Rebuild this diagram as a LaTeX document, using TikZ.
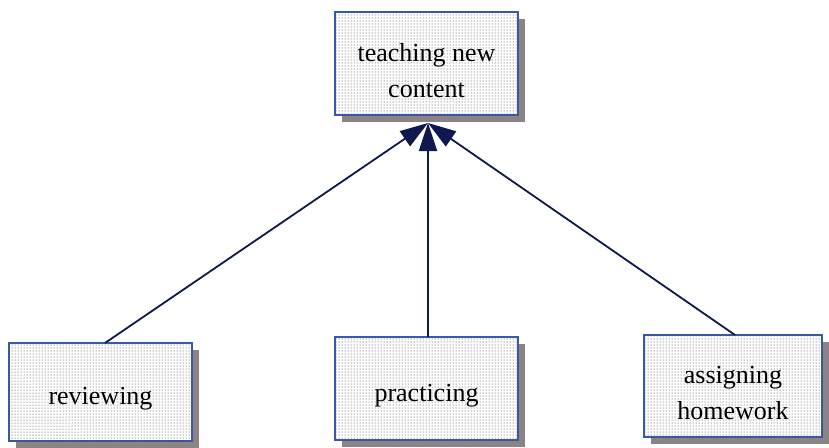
\documentclass[tikz,border=0pt]{standalone}
\usepackage{fontspec}
\setmainfont{Liberation Serif}
\usetikzlibrary{patterns,shadows,arrows.meta}
\definecolor{boxline}{HTML}{3A5AA8}
\definecolor{shade}{HTML}{8C8484}
\definecolor{navy}{HTML}{101850}
\begin{document}
\begin{tikzpicture}[x=1pt,y=-1pt,
  topic/.style={draw=boxline, line width=2pt, fill=white,
    postaction={pattern=dots, pattern color=black!80},
    drop shadow={shadow xshift=7pt, shadow yshift=-7pt, fill=shade, opacity=1}},
  caption/.style={align=center, inner sep=0pt, yshift=-7pt,
    font=\fontsize{26}{36}\selectfont},
  link/.style={draw=navy, line width=1.8pt,
    -{Triangle[length=28pt,width=18pt]}}]
  \fill[white] (0,0) rectangle (829,447);
  \useasboundingbox (0,0) rectangle (829,447);

  \node[topic, minimum width=183pt, minimum height=103pt,
    label={[caption]center:teaching new\\content}] (top) at (426.5,63.5) {};
  \node[topic, minimum width=183pt, minimum height=98pt,
    label={[caption]center:reviewing}] (rev) at (100.5,392) {};
  \node[topic, minimum width=183pt, minimum height=103pt,
    label={[caption]center:practicing}] (pra) at (426.5,388.5) {};
  \node[topic, minimum width=178pt, minimum height=102pt,
    label={[caption]center:assigning\\homework}] (ass) at (733,386) {};

  \coordinate (tip) at (428,123);
  \coordinate (revtop) at (105,343);
  \coordinate (pratop) at (428,337);
  \coordinate (asstop) at (735,335);

  \draw[link] (revtop) -- (tip);
  \draw[link] (pratop) -- (tip);
  \draw[link] (asstop) -- (tip);
\end{tikzpicture}
\end{document}
